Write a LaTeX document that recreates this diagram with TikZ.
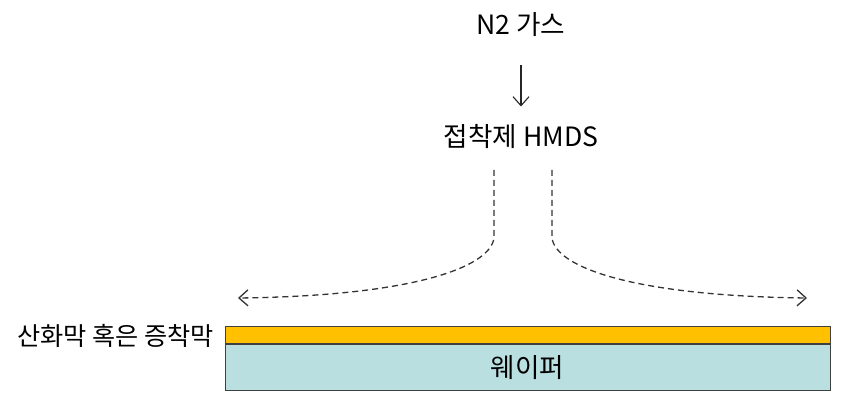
\documentclass[tikz,border=0pt]{standalone}
\usepackage{fontspec}
\setmainfont{Noto Sans CJK KR}
\usetikzlibrary{arrows.meta,positioning}

\begin{document}
\begin{tikzpicture}[x=0.5pt,y=-0.5pt,
  lbl/.style={font=\fontsize{13.3}{15}\selectfont,inner sep=2pt},
  layer/.style={rectangle,draw=black!75,line width=0.5pt,inner sep=0pt,
                minimum width=302.5pt},
  flow/.style={-{Straight Barb[length=4.5pt,width=8pt]},line width=0.55pt,black!85},
  spread/.style={flow,line width=0.65pt,dash pattern=on 3pt off 2pt,black!80},
]
  \useasboundingbox (0,0) rectangle (846,405);

  % Gas and adhesion agent
  \node[lbl] (gas)  at (521,25)  {N2 가스};
  \node[lbl] (hmds) at (521,137) {접착제 HMDS};
  \draw[flow,shorten <=12pt,shorten >=7pt] (gas) -- (hmds);

  % Spreading of the vapour
  \coordinate (ls) at (494,170);
  \coordinate (le) at (238,298);
  \coordinate (rs) at (552,170);
  \coordinate (re) at (807,298);
  \draw[spread] (ls) -- (494,238) .. controls (490,268) and (410,296) .. (le);
  \draw[spread] (rs) -- (552,238) .. controls (556,268) and (636,296) .. (re);

  % Layers (film on top of wafer)
  \node[layer,fill={rgb,255:red,255;green,192;blue,0},minimum height=8.5pt]
    (film) at (527.5,335.5) {};
  \node[layer,fill={rgb,255:red,185;green,223;blue,225},minimum height=23pt,
    anchor=north,lbl] (wafer) at (film.south) {웨이퍼};
  \node[lbl,font=\fontsize{12.6}{14}\selectfont,left=3pt of film] (filmlbl)
    {산화막 혹은 증착막};
\end{tikzpicture}
\end{document}
